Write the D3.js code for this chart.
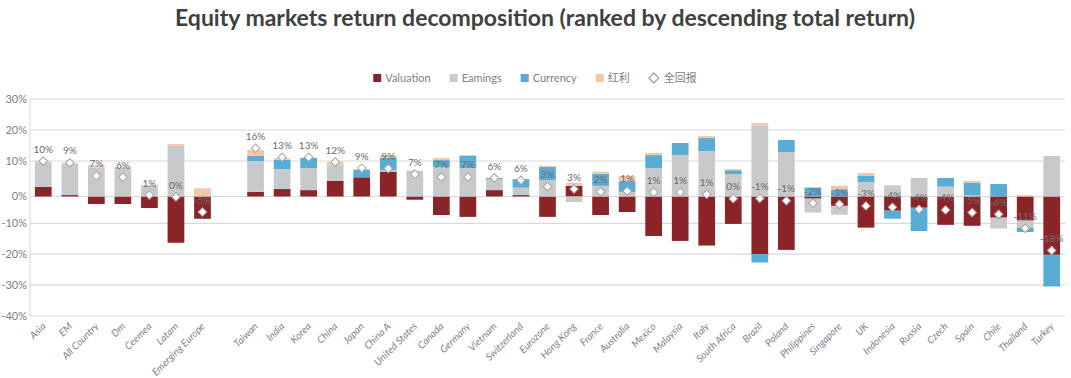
<!DOCTYPE html>
<html>
<head>
<meta charset="utf-8">
<script src="https://cdn.jsdelivr.net/npm/d3@7"></script>
<style>
  body { margin: 0; background: #fff; }
  text { font-family: Lato, "Noto Sans", "Noto Sans CJK SC", sans-serif; }
</style>
</head>
<body>
<div id="chart"></div>
<script>
const regions = ['Asia', 'EM', 'All Country', 'Dm', 'Ceemea', 'Latam', 'Emerging Europe'];
const countries = ['Taiwan', 'India', 'Korea', 'China', 'Japan', 'China A', 'United States', 'Canada', 'Germany',
  'Vietnam', 'Switzerland', 'Eurozone', 'Hong Kong', 'France', 'Australia', 'Mexico', 'Malaysia', 'Italy',
  'South Africa', 'Brazil', 'Poland', 'Philippines', 'Singapore', 'UK', 'Indonesia', 'Russia', 'Czech', 'Spain',
  'Chile', 'Thailand', 'Turkey'];

// contributions in %, regions first then countries
const valuation = [2.7, 0.4, -2.8, -2.8, -4.3, -16.3, -8.3,
  1.3, 2.1, 1.8, 4.4, 5.4, 7.0, -1.2, -6.9, -7.6, 1.8, 0.4, -7.6, 3.0, -6.9, -5.8, -14.1, -15.7, -17.2,
  -10.2, -20.0, -18.6, -0.8, -3.5, -11.4, -5.3, -4.2, -10.5, -10.8, -7.9, -9.0, -20.2];
const earnings = [6.9, 8.9, 8.2, 8.1, 3.0, 14.9, 0,
  8.7, 5.65, 6.2, 4.4, 0, 0.4, 7.2, 8.3, 8.0, 3.1, 2.1, 4.6, -2.05, 3.0, 1.3, 8.0, 11.9, 13.2,
  6.3, 21.4, 12.9, -5.2, -3.3, 4.1, 3.0, 5.2, 2.8, 0.3, -3.8, -2.4, 11.6];
const currency = [0, 0, 0, 0, 0, 0, 0,
  1.7, 2.65, 2.97, 0, 2.15, 3.66, 0, 2.0, 3.7, 0.3, 2.4, 3.7, 0, 3.4, 3.0, 3.9, 3.9, 4.2,
  1.1, -2.7, 3.9, 2.5, 2.0, 1.8, -3.0, -8.3, 2.4, 3.6, 3.5, -1.4, -10.25];
const dividend = [0.4, 0.2, 0.65, 0.3, 0.2, 0.55, 2.3,
  1.85, 0.55, 0.1, 1.0, 0.2, 0.85, 0.1, 0.65, 0.2, 0, 0, 0.3, 0.8, 0.6, 1.5, 0.7, 0, 0.65,
  0.3, 0.85, 0, 0.2, 1.0, 0.7, 0.2, 0, 0, 0.5, 0, 0.35, 0];
const totalReturn = [10.0, 9.5, 5.8, 5.4, 0.4, -0.2, -5.8,
  14.1, 11.2, 11.2, 9.7, 8.0, 7.9, 6.3, 5.5, 5.5, 5.2, 4.6, 2.8, 2.1, 1.35, 1.55, 1.2, 1.2, 0.6,
  -0.8, -0.7, -1.6, -2.5, -2.9, -3.5, -4.0, -4.8, -5.0, -6.0, -6.6, -11.6, -18.8];
const totalLabels = ['10%', '9%', '7%', '6%', '1%', '0%', '-5%',
  '16%', '13%', '13%', '12%', '9%', '9%', '7%', '7%', '7%', '6%', '6%', '3%', '3%', '2%', '1%', '1%', '1%', '1%',
  '0%', '-1%', '-1%', '-2%', '-3%', '-3%', '-4%', '-4%', '-4%', '-5%', '-6%', '-11%', '-18%'];
const yTicks = [30, 20, 10, 0, -10, -20, -30, -40];

const seriesKeys = ['valuation', 'earnings', 'currency', 'dividend'];
const seriesNames = ['Valuation', 'Eamings', 'Currency', '红利'];
const colors = ['#8b2429', '#c8c9ca', '#58acd5', '#f2c6aa'];

const width = 1071, height = 378;
const left = 30, right = 1065;

const names = regions.concat(countries);
const rows = names.map((name, i) => ({
  name,
  valuation: valuation[i],
  earnings: earnings[i],
  currency: currency[i],
  dividend: dividend[i],
  total: totalReturn[i],
  label: totalLabels[i]
}));

const svg = d3.select('#chart').append('svg')
  .attr('width', width)
  .attr('height', height);

svg.append('text')
  .attr('x', 545)
  .attr('y', 26)
  .attr('text-anchor', 'middle')
  .attr('font-size', 23)
  .attr('font-weight', 'bold')
  .attr('fill', '#404040')
  .text('Equity markets return decomposition (ranked by descending total return)');

// x: regional aggregates, a blank slot, then single markets
const x = d3.scaleBand()
  .domain([...regions, ' ', ...countries])
  .range([left, right])
  .paddingInner(0.37)
  .paddingOuter(0.185);

// the source's value axis is stretched around zero; a polylinear scale keeps that
const y = d3.scaleLinear()
  .domain([-40, -10, 0, 10, 30])
  .range([316, 223.3, 196.5, 161, 99]);

const grid = svg.append('g');
grid.selectAll('line')
  .data(yTicks)
  .join('line')
  .attr('x1', left)
  .attr('x2', right)
  .attr('y1', d => y(d))
  .attr('y2', d => y(d))
  .attr('stroke', '#d9d9d9')
  .attr('stroke-width', 1.2);

svg.append('line')
  .attr('x1', left).attr('x2', left)
  .attr('y1', y(30)).attr('y2', y(-40))
  .attr('stroke', '#d9d9d9');

svg.append('g').selectAll('text')
  .data(yTicks)
  .join('text')
  .attr('x', left - 3)
  .attr('y', d => y(d))
  .attr('dy', '0.35em')
  .attr('text-anchor', 'end')
  .attr('font-size', 11)
  .attr('fill', '#808080')
  .text(d => d + '%');

const stacked = d3.stack()
  .keys(seriesKeys)
  .offset(d3.stackOffsetDiverging)(rows);

svg.append('g').selectAll('g')
  .data(stacked)
  .join('g')
  .attr('fill', (d, i) => colors[i])
  .selectAll('rect')
  .data(d => d)
  .join('rect')
  .attr('x', d => x(d.data.name))
  .attr('width', x.bandwidth())
  .attr('y', d => y(Math.max(d[0], d[1])))
  .attr('height', d => Math.abs(y(d[0]) - y(d[1])));

const diamond = d3.symbol().type(d3.symbolSquare).size(36);

svg.append('g').selectAll('path')
  .data(rows)
  .join('path')
  .attr('d', diamond)
  .attr('transform', d => `translate(${x(d.name) + x.bandwidth() / 2},${y(d.total)}) rotate(45)`)
  .attr('fill', '#fff')
  .attr('stroke', '#a6a6a6')
  .attr('stroke-width', 1);

svg.append('g').selectAll('text')
  .data(rows)
  .join('text')
  .attr('x', d => x(d.name) + x.bandwidth() / 2)
  .attr('y', d => y(d.total) - 8.5)
  .attr('text-anchor', 'middle')
  .attr('font-size', 10)
  .attr('fill', '#6b6b6b')
  .text(d => d.label);

// category labels
svg.append('g').selectAll('text')
  .data(names)
  .join('text')
  .attr('transform', d => `translate(${x(d) + x.bandwidth() / 2 + 3},${327}) rotate(-45)`)
  .attr('text-anchor', 'end')
  .attr('font-size', 10)
  .attr('font-style', 'italic')
  .attr('fill', '#808090')
  .text(d => d);

// legend
const legend = svg.append('g');
let lx = 0;
seriesNames.forEach((name, i) => {
  legend.append('rect')
    .attr('x', lx).attr('y', -4)
    .attr('width', 8).attr('height', 8)
    .attr('fill', colors[i]);
  const t = legend.append('text')
    .attr('x', lx + 12).attr('y', 0)
    .attr('dy', '0.35em')
    .attr('font-size', 11)
    .attr('fill', '#808080')
    .text(name);
  lx += 12 + t.node().getComputedTextLength() + 19;
});
legend.append('path')
  .attr('d', d3.symbol().type(d3.symbolSquare).size(50))
  .attr('transform', `translate(${lx + 5},0) rotate(45)`)
  .attr('fill', '#fff')
  .attr('stroke', '#8c8c8c');
const lt = legend.append('text')
  .attr('x', lx + 15).attr('y', 0)
  .attr('dy', '0.35em')
  .attr('font-size', 11)
  .attr('fill', '#808080')
  .text('全回报');
lx += 15 + lt.node().getComputedTextLength();
legend.attr('transform', `translate(${535 - lx / 2},78)`);
</script>
</body>
</html>
